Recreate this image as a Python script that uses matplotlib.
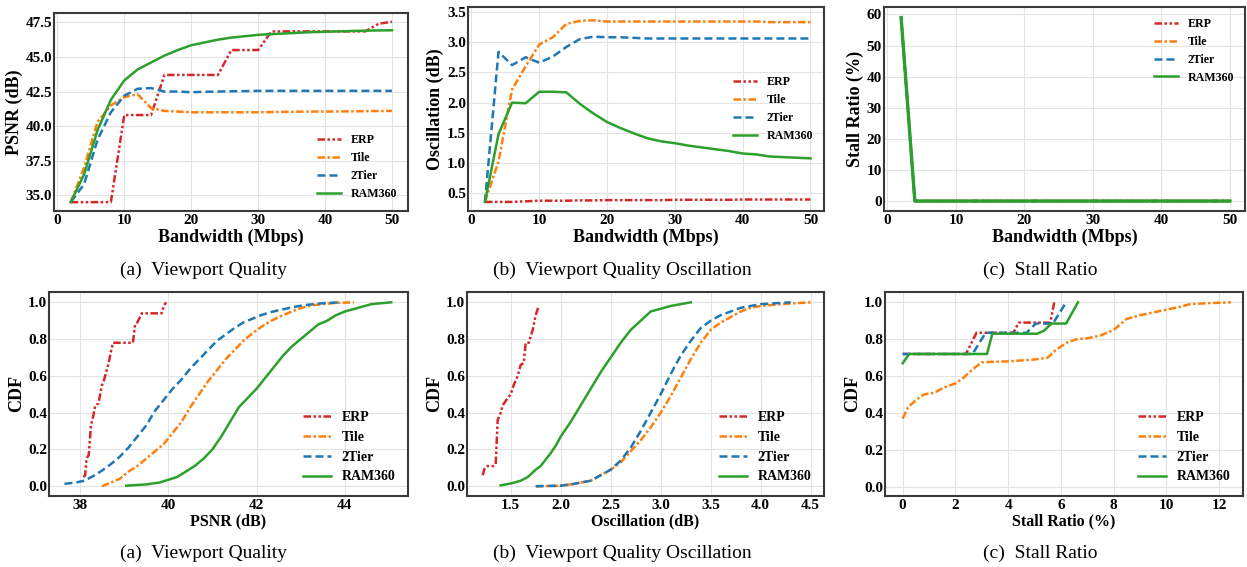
import numpy as np
import matplotlib
matplotlib.use('Agg')
import matplotlib.pyplot as plt
from matplotlib.ticker import FormatStrFormatter

plt.rcParams['font.family'] = ['Liberation Serif', 'DejaVu Serif']
plt.rcParams['font.weight'] = 'bold'

methods = ['ERP', 'Tile', '2Tier', 'RAM360']
colors = ['#d62728', '#ff7f0e', '#1f77b4', '#2ca02c']
styles = [(0, (3, 1, 1, 1, 1, 1)), (0, (3, 1, 1, 1)), (0, (3.2, 1.6)), '-']

# Bandwidth sweep (Mbps)
bw = [2, 4, 6, 8, 10, 12, 14, 16, 18, 20, 22, 24, 26, 28, 30, 32, 34, 36, 38, 40, 42, 44, 46, 48, 50]

psnr_erp = [34.5, 34.5, 34.5, 34.5, 40.8, 40.8, 40.8, 43.7, 43.7, 43.7, 43.7, 43.7, 45.5, 45.5, 45.5,
            46.85, 46.85, 46.85, 46.85, 46.85, 46.85, 46.85, 46.85, 47.4, 47.55]
psnr_tile = [34.5, 37.0, 40.3, 41.5, 42.1, 42.3, 41.3, 41.1, 41.05, 41.0, 41.0, 41.0, 41.0, 41.0, 41.0,
             41.02, 41.03, 41.04, 41.05, 41.05, 41.06, 41.07, 41.08, 41.09, 41.1]
psnr_2tier = [34.5, 35.8, 39.0, 41.0, 42.2, 42.7, 42.75, 42.5, 42.5, 42.45, 42.48, 42.5, 42.52, 42.53, 42.55,
              42.55, 42.55, 42.55, 42.55, 42.55, 42.55, 42.55, 42.55, 42.55, 42.55]
psnr_ram = [34.5, 36.5, 39.7, 41.9, 43.3, 44.1, 44.6, 45.1, 45.5, 45.85, 46.05, 46.25, 46.4, 46.5, 46.6,
            46.65, 46.7, 46.75, 46.8, 46.82, 46.85, 46.88, 46.9, 46.92, 46.93]

osc_erp = [0.36, 0.36, 0.36, 0.37, 0.38, 0.38, 0.38, 0.385, 0.385, 0.39, 0.39, 0.39, 0.39, 0.39, 0.395,
           0.395, 0.395, 0.395, 0.395, 0.4, 0.4, 0.4, 0.4, 0.4, 0.4]
osc_tile = [0.36, 1.03, 2.22, 2.6, 2.96, 3.08, 3.3, 3.35, 3.36, 3.34, 3.34, 3.34, 3.34, 3.34, 3.34,
            3.34, 3.34, 3.34, 3.34, 3.34, 3.34, 3.33, 3.33, 3.33, 3.33]
osc_2tier = [0.36, 2.84, 2.62, 2.75, 2.66, 2.76, 2.92, 3.05, 3.09, 3.08, 3.08, 3.07, 3.06, 3.06, 3.06,
             3.06, 3.06, 3.06, 3.06, 3.06, 3.06, 3.06, 3.06, 3.06, 3.06]
osc_ram = [0.36, 1.48, 2.0, 1.99, 2.18, 2.18, 2.17, 1.98, 1.82, 1.68, 1.58, 1.49, 1.41, 1.36, 1.33,
           1.29, 1.26, 1.23, 1.2, 1.16, 1.145, 1.11, 1.1, 1.09, 1.08]

stall_bw = [59, 0, 0, 0, 0, 0, 0, 0, 0, 0, 0, 0, 0, 0, 0, 0, 0, 0, 0, 0, 0, 0, 0, 0, 0]

# CDF of PSNR (dB)
cpsnr_erp_x = [38.08, 38.12, 38.15, 38.2, 38.25, 38.3, 38.35, 38.42, 38.5, 38.55, 38.65, 38.7, 38.75,
               39.2, 39.25, 39.3, 39.4, 39.85, 39.9, 39.95]
cpsnr_erp_y = [0.05, 0.06, 0.15, 0.17, 0.33, 0.38, 0.44, 0.45, 0.55, 0.58, 0.67, 0.73, 0.78,
               0.78, 0.88, 0.89, 0.94, 0.94, 0.98, 1.0]
cpsnr_2tier_x = [37.65, 37.9, 38.1, 38.3, 38.5, 38.7, 38.9, 39.1, 39.3, 39.5, 39.7, 39.9, 40.1, 40.3,
                 40.5, 40.7, 40.9, 41.1, 41.3, 41.5, 41.7, 41.9, 42.1, 42.3, 42.5, 42.7, 42.9, 43.1,
                 43.3, 43.5, 43.9]
cpsnr_2tier_y = [0.013, 0.02, 0.03, 0.055, 0.085, 0.12, 0.16, 0.21, 0.27, 0.33, 0.41, 0.47, 0.53, 0.58,
                 0.64, 0.69, 0.74, 0.79, 0.825, 0.86, 0.89, 0.91, 0.93, 0.945, 0.957, 0.967, 0.977,
                 0.985, 0.99, 0.995, 1.0]
cpsnr_tile_x = [38.5, 38.7, 38.9, 39.1, 39.3, 39.5, 39.7, 39.9, 40.1, 40.3, 40.5, 40.7, 40.9, 41.1, 41.3,
                41.5, 41.7, 41.9, 42.1, 42.3, 42.5, 42.7, 42.9, 43.1, 43.3, 43.5, 43.8, 44.2]
cpsnr_tile_y = [0.0, 0.02, 0.04, 0.08, 0.11, 0.15, 0.19, 0.23, 0.29, 0.35, 0.43, 0.5, 0.57, 0.63, 0.69,
                0.74, 0.79, 0.83, 0.865, 0.895, 0.92, 0.94, 0.96, 0.975, 0.985, 0.99, 0.997, 1.0]
cpsnr_ram_x = [39.05, 39.5, 39.8, 40.0, 40.2, 40.4, 40.6, 40.8, 41.0, 41.2, 41.4, 41.6, 41.8, 42.0, 42.2,
               42.4, 42.6, 42.8, 43.0, 43.2, 43.4, 43.6, 43.8, 44.0, 44.3, 44.6, 45.05]
cpsnr_ram_y = [0.003, 0.01, 0.02, 0.035, 0.05, 0.08, 0.11, 0.15, 0.2, 0.27, 0.35, 0.43, 0.48, 0.53, 0.59,
               0.65, 0.71, 0.76, 0.8, 0.84, 0.88, 0.9, 0.93, 0.95, 0.97, 0.99, 1.0]

# CDF of oscillation (dB)
cosc_erp_x = [1.22, 1.24, 1.27, 1.33, 1.35, 1.37, 1.4, 1.42, 1.47, 1.5, 1.53, 1.57, 1.6, 1.63, 1.65,
              1.68, 1.72, 1.75, 1.78]
cosc_erp_y = [0.06, 0.1, 0.11, 0.11, 0.12, 0.36, 0.4, 0.44, 0.48, 0.5, 0.55, 0.6, 0.66, 0.67, 0.78,
              0.78, 0.85, 0.93, 0.98]
cosc_ram_x = [1.4, 1.5, 1.6, 1.67, 1.75, 1.8, 1.9, 1.95, 2.0, 2.1, 2.2, 2.3, 2.4, 2.5, 2.6, 2.7, 2.8,
              2.9, 3.0, 3.1, 3.2, 3.3]
cosc_ram_y = [0.005, 0.015, 0.03, 0.05, 0.09, 0.11, 0.18, 0.22, 0.27, 0.35, 0.44, 0.53, 0.62, 0.7, 0.78,
              0.85, 0.9, 0.95, 0.965, 0.98, 0.99, 1.0]
cosc_2tier_x = [1.75, 2.0, 2.1, 2.2, 2.3, 2.4, 2.5, 2.6, 2.7, 2.8, 2.9, 3.0, 3.1, 3.2, 3.3, 3.4, 3.5,
                3.6, 3.7, 3.8, 3.9, 4.0, 4.3]
cosc_2tier_y = [0.0, 0.003, 0.01, 0.02, 0.03, 0.06, 0.09, 0.14, 0.21, 0.3, 0.4, 0.5, 0.61, 0.71, 0.79,
                0.86, 0.9, 0.93, 0.95, 0.97, 0.98, 0.99, 1.0]
cosc_tile_x = [1.75, 2.0, 2.1, 2.2, 2.3, 2.4, 2.5, 2.6, 2.7, 2.8, 2.9, 3.0, 3.1, 3.2, 3.3, 3.4, 3.5,
               3.6, 3.7, 3.8, 3.9, 4.0, 4.2, 4.5]
cosc_tile_y = [0.0, 0.003, 0.01, 0.02, 0.03, 0.06, 0.09, 0.13, 0.19, 0.25, 0.32, 0.4, 0.49, 0.59, 0.69,
               0.78, 0.85, 0.89, 0.92, 0.95, 0.97, 0.98, 0.99, 1.0]

# CDF of stall ratio (%)
cstall_erp_x = [0.0, 0.3, 2.4, 2.8, 4.2, 4.4, 5.6, 5.75]
cstall_erp_y = [0.72, 0.72, 0.72, 0.835, 0.835, 0.89, 0.89, 1.0]
cstall_2tier_x = [0.0, 2.65, 3.15, 4.7, 5.05, 5.7, 6.2]
cstall_2tier_y = [0.72, 0.72, 0.835, 0.835, 0.885, 0.885, 1.0]
cstall_ram_x = [0.0, 0.25, 3.2, 3.4, 5.1, 5.35, 5.65, 6.2, 6.65]
cstall_ram_y = [0.67, 0.72, 0.72, 0.83, 0.83, 0.845, 0.885, 0.885, 1.0]
cstall_tile_x = [0.0, 0.2, 0.5, 0.8, 1.2, 1.6, 2.0, 2.3, 2.6, 3.0, 3.5, 4.0, 4.5, 5.0, 5.5, 5.8, 6.2,
                 6.6, 7.0, 7.5, 8.0, 8.5, 9.0, 9.5, 10.0, 10.5, 10.9, 11.5, 12.45]
cstall_tile_y = [0.37, 0.43, 0.47, 0.5, 0.51, 0.54, 0.56, 0.59, 0.63, 0.675, 0.678, 0.68, 0.685, 0.69,
                 0.7, 0.74, 0.78, 0.8, 0.805, 0.82, 0.85, 0.91, 0.93, 0.945, 0.96, 0.975, 0.99, 0.995, 1.0]

W, H = 1247, 567
fig = plt.figure(figsize=(W / 100, H / 100), dpi=100)


def make_ax(l, r, t, b):
    return fig.add_axes([l / W, 1 - b / H, (r - l) / W, (b - t) / H])


def style_ax(ax, xlabel, ylabel, xsize, ysize):
    ax.grid(True, color='#e4e4e4', linewidth=0.8)
    ax.set_axisbelow(True)
    for s in ax.spines.values():
        s.set_color('#3a3a3a')
        s.set_linewidth(1.5)
    ax.tick_params(length=0, labelsize=11)
    ax.tick_params(axis='x', pad=2.5)
    ax.tick_params(axis='y', pad=1.5)
    for lab in ax.get_xticklabels() + ax.get_yticklabels():
        lab.set_fontweight('bold')
    ax.set_xlabel(xlabel, fontsize=xsize, fontweight='bold', labelpad=1)
    ax.set_ylabel(ylabel, fontsize=ysize, fontweight='bold', labelpad=2)


def draw(ax, xs, ys):
    for x, y, m, c, ls in zip(xs, ys, methods, colors, styles):
        ax.plot(x, y, color=c, linestyle=ls, linewidth=1.8, label=m)


# Top row
ax1 = make_ax(54, 408, 13, 211)
draw(ax1, [bw] * 4, [psnr_erp, psnr_tile, psnr_2tier, psnr_ram])
ax1.set_xlim(-0.5, 52.4)
ax1.set_ylim(33.86, 48.18)
ax1.set_xticks([0, 10, 20, 30, 40, 50])
ax1.set_yticks([35.0, 37.5, 40.0, 42.5, 45.0, 47.5])
ax1.yaxis.set_major_formatter(FormatStrFormatter('%.1f'))
style_ax(ax1, 'Bandwidth (Mbps)', 'PSNR (dB)', 13, 13)
ax1.legend(loc='lower right', frameon=False, prop={'weight': 'bold', 'size': 8.6})

ax2 = make_ax(468, 824, 7, 211)
draw(ax2, [bw] * 4, [osc_erp, osc_tile, osc_2tier, osc_ram])
ax2.set_xlim(-0.5, 52.0)
ax2.set_ylim(0.21, 3.58)
ax2.set_xticks([0, 10, 20, 30, 40, 50])
ax2.set_yticks([0.5, 1.0, 1.5, 2.0, 2.5, 3.0, 3.5])
ax2.yaxis.set_major_formatter(FormatStrFormatter('%.1f'))
style_ax(ax2, 'Bandwidth (Mbps)', 'Oscillation (dB)', 13, 13)
ax2.legend(loc='center right', frameon=False, prop={'weight': 'bold', 'size': 8.6})

ax3 = make_ax(884, 1245, 7, 211)
draw(ax3, [bw] * 4, [stall_bw] * 4)
# all methods coincide here, the green line covers the others
ax3.lines[3].set_linewidth(2.4)
ax3.set_xlim(-0.5, 52.2)
ax3.set_ylim(-3.2, 62.4)
ax3.set_xticks([0, 10, 20, 30, 40, 50])
ax3.set_yticks([0, 10, 20, 30, 40, 50, 60])
style_ax(ax3, 'Bandwidth (Mbps)', 'Stall Ratio (%)', 13, 13)
leg3 = ax3.legend(loc='upper right', frameon=False, prop={'weight': 'bold', 'size': 8.6})
leg3.get_lines()[3].set_linewidth(1.8)

# Bottom row
ax4 = make_ax(49, 408, 292, 496)
draw(ax4, [cpsnr_erp_x, cpsnr_tile_x, cpsnr_2tier_x, cpsnr_ram_x],
     [cpsnr_erp_y, cpsnr_tile_y, cpsnr_2tier_y, cpsnr_ram_y])
ax4.set_xlim(37.3, 45.43)
ax4.set_ylim(-0.053, 1.056)
ax4.set_xticks([38, 40, 42, 44])
ax4.set_yticks([0.0, 0.2, 0.4, 0.6, 0.8, 1.0])
ax4.yaxis.set_major_formatter(FormatStrFormatter('%.1f'))
style_ax(ax4, 'PSNR (dB)', 'CDF', 11.5, 13)
ax4.legend(loc='lower right', frameon=False, prop={'weight': 'bold', 'size': 10})

ax5 = make_ax(467, 824, 292, 496)
draw(ax5, [cosc_erp_x, cosc_tile_x, cosc_2tier_x, cosc_ram_x],
     [cosc_erp_y, cosc_tile_y, cosc_2tier_y, cosc_ram_y])
ax5.set_xlim(1.063, 4.633)
ax5.set_ylim(-0.053, 1.056)
ax5.set_xticks([1.5, 2.0, 2.5, 3.0, 3.5, 4.0, 4.5])
ax5.set_yticks([0.0, 0.2, 0.4, 0.6, 0.8, 1.0])
ax5.xaxis.set_major_formatter(FormatStrFormatter('%.1f'))
ax5.yaxis.set_major_formatter(FormatStrFormatter('%.1f'))
style_ax(ax5, 'Oscillation (dB)', 'CDF', 11.5, 13)
ax5.legend(loc='lower right', frameon=False, prop={'weight': 'bold', 'size': 10})

ax6 = make_ax(885, 1243, 292, 496)
draw(ax6, [cstall_erp_x, cstall_tile_x, cstall_2tier_x, cstall_ram_x],
     [cstall_erp_y, cstall_tile_y, cstall_2tier_y, cstall_ram_y])
ax6.set_xlim(-0.67, 12.91)
ax6.set_ylim(-0.05, 1.056)
ax6.set_xticks([0, 2, 4, 6, 8, 10, 12])
ax6.set_yticks([0.0, 0.2, 0.4, 0.6, 0.8, 1.0])
ax6.yaxis.set_major_formatter(FormatStrFormatter('%.1f'))
style_ax(ax6, 'Stall Ratio (%)', 'CDF', 11.5, 13)
ax6.legend(loc='lower right', frameon=False, prop={'weight': 'bold', 'size': 10})

# Captions
captions = ['(a)  Viewport Quality', '(b)  Viewport Quality Oscillation', '(c)  Stall Ratio']
cap_x = [204, 622, 1040]
for row_y in [270, 553]:
    for cx, cap in zip(cap_x, captions):
        fig.text(cx / W, 1 - row_y / H, cap, ha='center', va='center',
                 fontsize=14, fontweight='normal')

fig.savefig('out.png', dpi=100)
